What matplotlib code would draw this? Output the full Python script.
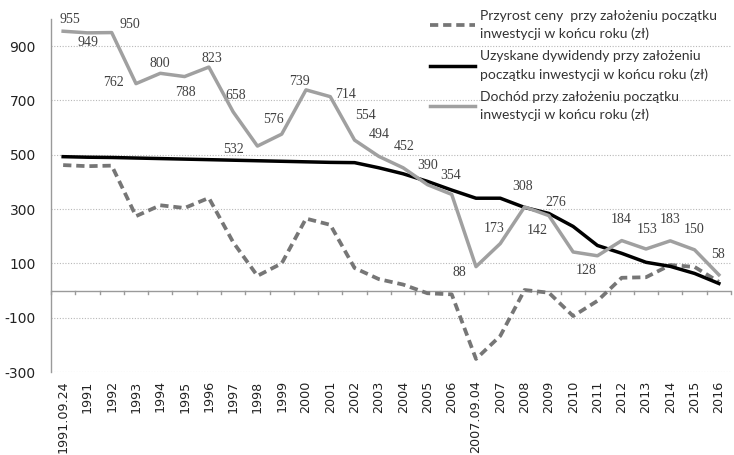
import matplotlib
matplotlib.use("Agg")
import matplotlib.pyplot as plt
import numpy as np

categories = ["1991.09.24"] + [str(y) for y in range(1991, 2007)] + ["2007.09.04"] + [str(y) for y in range(2007, 2017)]

dochod = [955, 949, 950, 762, 800, 788, 823, 658, 532, 576, 739, 714, 554, 494,
          452, 390, 354, 88, 173, 308, 276, 142, 128, 184, 153, 183, 150, 58]
dywidendy = [493, 491, 490, 488, 486, 484, 482, 480, 478, 476, 474, 472, 471, 452,
             430, 402, 370, 340, 340, 306, 284, 236, 166, 137, 104, 89, 63, 26]
przyrost = [462, 458, 460, 274, 314, 304, 341, 178, 54, 100, 265, 242, 83, 42,
            22, -10, -14, -252, -167, 2, -8, -94, -38, 47, 49, 94, 87, 32]

labels_legend = [
    "Przyrost ceny  przy założeniu początku\ninwestycji w końcu roku (zł)",
    "Uzyskane dywidendy przy założeniu\npoczątku inwestycji w końcu roku (zł)",
    "Dochód przy założeniu początku\ninwestycji w końcu roku (zł)",
]
yticks = [-300, -100, 100, 300, 500, 700, 900]

# label offsets in pixels (dx, dy) relative to the point
offsets = [(7, 12), (1, -10), (18, 8), (-23, 1), (0, 10), (1, -16), (3, 9), (3, 16),
           (-24, -3), (-8, 15), (-7, 8), (15, 2), (11, 25), (0, 22), (1, 21), (0, 19),
           (-1, 19), (-17, -6), (-6, 15), (-2, 20), (7, 13), (-36, 21), (-11, -15),
           (-1, 21), (1, 19), (0, 21), (0, 20), (-1, 20)]

plt.rcParams['font.family'] = ['Lato', 'DejaVu Sans']

fig = plt.figure(figsize=(7.34, 4.55), dpi=100)
ax = fig.add_axes([51/734, (455-372)/455, (731-51)/734, 353/455])

x = np.arange(len(categories))
ax.set_xlim(-0.5, len(categories) - 0.5)
ax.set_ylim(-300, 1000)

for v in yticks:
    ax.axhline(v, color="#b8b8b8", lw=0.8, ls=(0, (1, 1.5)), zorder=0)
ax.axhline(0, color="#9a9a9a", lw=1.0, zorder=1)
for b in np.arange(-0.5, len(categories), 1.0):
    ax.plot([b, b], [0, -14], color="#9a9a9a", lw=1.0, zorder=1, clip_on=False)

l1, = ax.plot(x, przyrost, color="#767676", lw=2.7, ls=(0, (2.2, 1.3)),
              dash_capstyle="butt", zorder=3)
l2, = ax.plot(x, dywidendy, color="#000000", lw=2.5, zorder=4)
l3, = ax.plot(x, dochod, color="#a0a0a0", lw=2.5, zorder=5)

for xi, v, (dx, dy) in zip(x, dochod, offsets):
    ax.annotate(str(v), (xi, v), xytext=(dx, dy), textcoords="offset pixels",
                ha="center", va="center", fontsize=10, color="#404040",
                family="Liberation Serif", zorder=6)

ax.set_yticks(yticks)
ax.set_yticklabels([str(v) for v in yticks], fontsize=10, color="#222222",
                   family="DejaVu Sans")
ax.set_xticks(x)
ax.set_xticklabels(categories, rotation=90, fontsize=9.2, color="#222222",
                   family="DejaVu Sans")
ax.tick_params(axis="x", length=0, pad=6)
ax.tick_params(axis="y", length=0, pad=11)

for s in ["top", "right", "bottom"]:
    ax.spines[s].set_visible(False)
ax.spines["left"].set_color("#9a9a9a")
ax.spines["left"].set_linewidth(1.0)

leg = fig.legend([l1, l2, l3], labels_legend, loc="upper left",
                 bbox_to_anchor=(424/734, 1 - 4/455), frameon=False,
                 fontsize=10, handlelength=3.3, handletextpad=0.3,
                 labelspacing=0.75, borderaxespad=0)
for t in leg.get_texts():
    t.set_linespacing(1.55)
    t.set_color("#333333")

fig.savefig("out.png", dpi=100)
